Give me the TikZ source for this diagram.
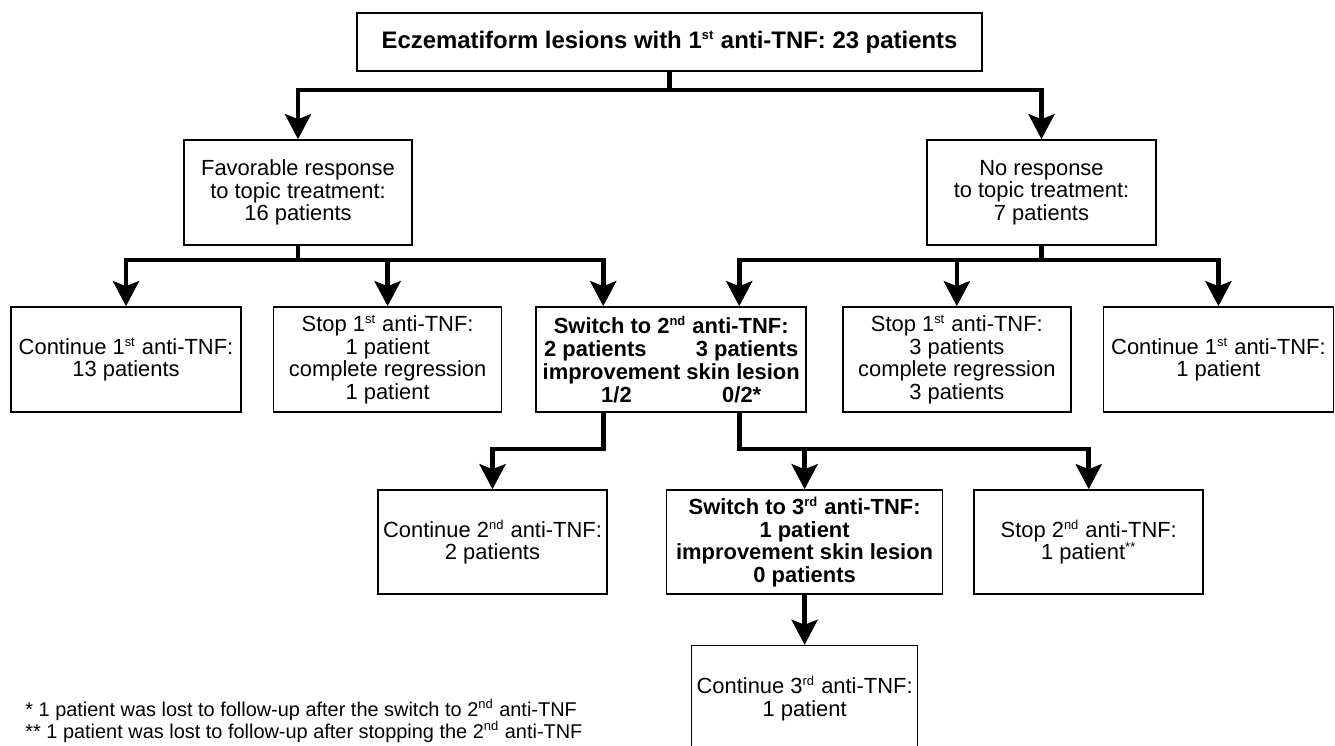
\documentclass[tikz,border=0pt]{standalone}
\usepackage{fontspec}
\setmainfont{Liberation Sans}
\usetikzlibrary{arrows.meta, positioning}

\newcommand{\ordsup}[1]{\textsuperscript{\fontsize{6.5}{6.5}\selectfont #1}}

\tikzset{
  basebox/.style={
    rectangle, draw=black, line width=0.8bp, align=center, inner sep=0pt,
    font=\fontsize{11}{11.4}\selectfont
  },
  stepbox/.style={basebox, minimum width=115bp, minimum height=52.5bp},
  switchbox/.style={stepbox, font=\fontsize{11}{11.4}\selectfont\bfseries},
  titlebox/.style={basebox, font=\fontsize{12}{14}\selectfont\bfseries, minimum width=312.5bp, minimum height=29bp},
  link/.style={line width=2.3bp},
  arrow/.style={link, -{Stealth[length=12.5bp, width=13bp, inset=2.5bp]}},
  notetext/.style={anchor=base west, inner sep=0pt, font=\fontsize{10}{12}\selectfont}
}

\begin{document}
\begin{tikzpicture}[x=0.5bp, y=-0.5bp]
  \useasboundingbox (0,0) rectangle (1335,745);
  \clip (0,0) rectangle (1335,745);

  % first line of treatment
  \node[titlebox] (title) at (669.5,42) {Eczematiform lesions with 1\ordsup{st} anti-TNF: 23 patients};
  \node[stepbox, minimum width=114bp] (fav) at (298,192.5) {Favorable response\\to topic treatment:\\16 patients};
  \node[stepbox, minimum width=114.5bp] (nores) at (1041.5,192.5) {No response\\to topic treatment:\\7 patients};

  % second row
  \node[stepbox] (cont1) at (126,359.5) {Continue 1\ordsup{st} anti-TNF:\\13 patients};
  \node[stepbox, minimum width=114bp, right=15.5bp of cont1] (stop1l)
        {Stop 1\ordsup{st} anti-TNF:\\1 patient\\complete regression\\1 patient};
  \node[switchbox, minimum width=135bp, right=16.5bp of stop1l] (switch2)
        {Switch to 2\ordsup{nd} anti-TNF:\\\makebox[127bp]{2 patients\hfill 3 patients}\\improvement skin lesion\\\hspace*{10bp}\makebox[80bp]{1/2\hfill 0/2*}};
  \node[stepbox, minimum width=114bp, right=17.5bp of switch2] (stop1r)
        {Stop 1\ordsup{st} anti-TNF:\\3 patients\\complete regression\\3 patients};
  \node[stepbox, right=15.5bp of stop1r] (cont1r) {Continue 1\ordsup{st} anti-TNF:\\1 patient};

  % after the switch
  \node[stepbox, minimum width=114.5bp, minimum height=52bp] (cont2) at (492.5,542) {Continue 2\ordsup{nd} anti-TNF:\\2 patients};
  \node[switchbox, minimum width=138bp, minimum height=52bp, right=29bp of cont2] (switch3)
        {Switch to 3\ordsup{rd} anti-TNF:\\1 patient\\improvement skin lesion\\0 patients};
  \node[stepbox, minimum width=114.5bp, minimum height=52bp, right=15bp of switch3] (stop2)
        {Stop 2\ordsup{nd} anti-TNF:\\1 patient\ordsup{**}};
  \node[stepbox, minimum width=113bp, minimum height=53bp, below=25bp of switch3] (cont3)
        {Continue 3\ordsup{rd} anti-TNF:\\1 patient};

  \coordinate (topbar) at (669.5,90);
  \coordinate (favbar) at (298,260);
  \coordinate (noresbar) at (1041.5,260);

  \draw[arrow] (title.south) -- (topbar) -| (fav.north);
  \draw[arrow] (topbar) -| (nores.north);

  \draw[arrow] (fav.south) -- (favbar) -| (cont1.north);
  \draw[arrow] (favbar) -| (stop1l.north);
  \draw[arrow] (favbar) -| ([xshift=-34bp]switch2.north);

  \draw[arrow] (nores.south) -- (noresbar) -| ([xshift=34bp]switch2.north);
  \draw[arrow] (noresbar) -| (stop1r.north);
  \draw[arrow] (noresbar) -| (cont1r.north);

  \draw[arrow] ([xshift=-34bp]switch2.south) -- ++(0,36) -| (cont2.north);
  \coordinate (sw3bar) at ([xshift=34bp,yshift=-18bp]switch2.south);
  \draw[arrow] ([xshift=34bp]switch2.south) -- (sw3bar) -| (switch3.north);
  \draw[arrow] (sw3bar) -| (stop2.north);
  \draw[arrow] (switch3.south) -- (cont3.north);

  % notes
  \node[notetext] (note1) at (25,716) {* 1 patient was lost to follow-up after the switch to 2\ordsup{nd} anti-TNF};
  \node[notetext] (note2) at (25,738) {** 1 patient was lost to follow-up after stopping the 2\ordsup{nd} anti-TNF};
\end{tikzpicture}
\end{document}
